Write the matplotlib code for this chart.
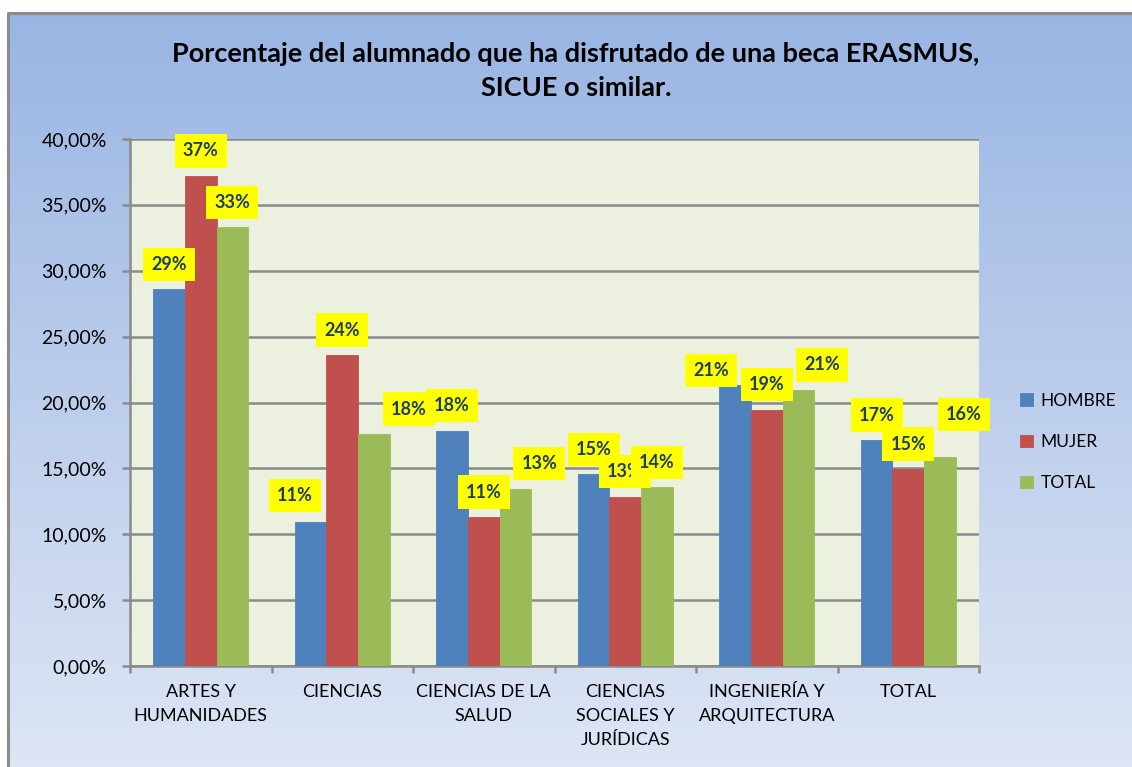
import numpy as np
import matplotlib
matplotlib.use("Agg")
import matplotlib.pyplot as plt
from matplotlib.lines import Line2D
from matplotlib.ticker import FuncFormatter, MultipleLocator

plt.rcParams['font.family'] = ['Lato', 'DejaVu Sans']

# data (percent)
categories = ["ARTES Y\nHUMANIDADES", "CIENCIAS", "CIENCIAS DE LA\nSALUD",
              "CIENCIAS\nSOCIALES Y\nJURÍDICAS", "INGENIERÍA Y\nARQUITECTURA", "TOTAL"]
series = ["HOMBRE", "MUJER", "TOTAL"]
hombre = [28.6, 10.9, 17.85, 14.55, 21.3, 17.15]
mujer = [37.2, 23.6, 11.3, 12.85, 19.45, 14.95]
total = [33.3, 17.6, 13.45, 13.55, 20.95, 15.9]

colors = ["#4F81BD", "#C0504D", "#9BBB59"]
# manual nudges of the yellow data labels (pixels, x / y), as in the original
nudge_x = [[0, -16, 0, 0, -24, 0], [0] * 6, [0, 35, 24, 0, 24, 24]]
nudge_y = [[0, 2, 0, 0, -10, 0], [0] * 6, [0, 0, 0, 0, 0, 17]]

W, H = 1132, 767
fig = plt.figure(figsize=(W / 100, H / 100), dpi=100)
fig.patch.set_facecolor("white")

# chart area with vertical gradient
bg = fig.add_axes([8 / W, 0, 1 - 8 / W, 1 - 13 / H])
grad = np.linspace(0, 1, 256)[:, None]
top = np.array([0.600, 0.710, 0.890])
bot = np.array([0.870, 0.900, 0.960])
img = top[None, None, :] * (1 - grad[:, :, None]) + bot[None, None, :] * grad[:, :, None]
bg.imshow(img, aspect="auto", extent=[0, 1, 0, 1])
bg.set_xlim(0, 1)
bg.set_ylim(0, 1)
bg.axis("off")
# only left and top edges of the frame are inside the picture
fig.add_artist(Line2D([8 / W, 8 / W, 1], [0, 1 - 13 / H, 1 - 13 / H],
                      transform=fig.transFigure, color="#8C8C8C", lw=2.2))

ax = fig.add_axes([130 / W, (H - 666) / H, (979 - 130) / W, (666 - 139) / H])
ax.set_facecolor("#EBF0DF")

x = np.arange(len(categories))
bw = 0.223
for i, (vals, col) in enumerate(zip([hombre, mujer, total], colors)):
    pos = x + (i - 1) * bw
    ax.bar(pos, vals, width=bw, color=col, edgecolor=col, lw=0.6,
           label=series[i], zorder=3)
    for j, (px, v) in enumerate(zip(pos, vals)):
        ax.annotate(f"{round(v)}%", (px, v),
                    xytext=(nudge_x[i][j] * 0.72, 18 + nudge_y[i][j] * 0.72),
                    textcoords="offset points", ha="center", va="center",
                    fontsize=13, fontweight="bold", color="#1F3D6B", zorder=5,
                    bbox=dict(boxstyle="square,pad=0.45", fc="#FFFF00", ec="none"))

ax.set_xlim(-0.5, len(categories) - 0.5)
ax.set_ylim(0, 40)
ax.yaxis.set_major_locator(MultipleLocator(5))
ax.yaxis.set_major_formatter(FuncFormatter(lambda v, p: f"{v:.2f}%".replace(".", ",")))
ax.grid(axis="y", color="#8A8A8A", lw=1.8, zorder=1)
ax.set_axisbelow(True)

ax.set_xticks(x)
ax.set_xticklabels(categories, fontsize=13, linespacing=1.6)
ax.set_xticks(np.arange(len(categories) + 1) - 0.5, minor=True)
ax.tick_params(axis="x", which="major", length=0, pad=13)
ax.tick_params(axis="x", which="minor", length=5, width=1.8, color="#8A8A8A")
ax.tick_params(axis="y", length=5.8, width=1.8, color="#8A8A8A", labelsize=14, pad=11)

for s in ["top", "right"]:
    ax.spines[s].set_visible(False)
for s in ["left", "bottom"]:
    ax.spines[s].set_color("#8A8A8A")
    ax.spines[s].set_linewidth(1.8)

fig.text(576 / W, 1 - 71 / H,
         "Porcentaje del alumnado que ha disfrutado de una beca ERASMUS,\nSICUE o similar.",
         ha="center", va="center", fontsize=19.5, fontweight="bold", linespacing=1.55)

fig.legend(loc="center left", bbox_to_anchor=(1004 / W, 1 - 442 / H), frameon=False,
           fontsize=12.5, handlelength=0.75, handleheight=0.75, handletextpad=0.45,
           labelspacing=1.45)

fig.savefig("out.png", dpi=100)
